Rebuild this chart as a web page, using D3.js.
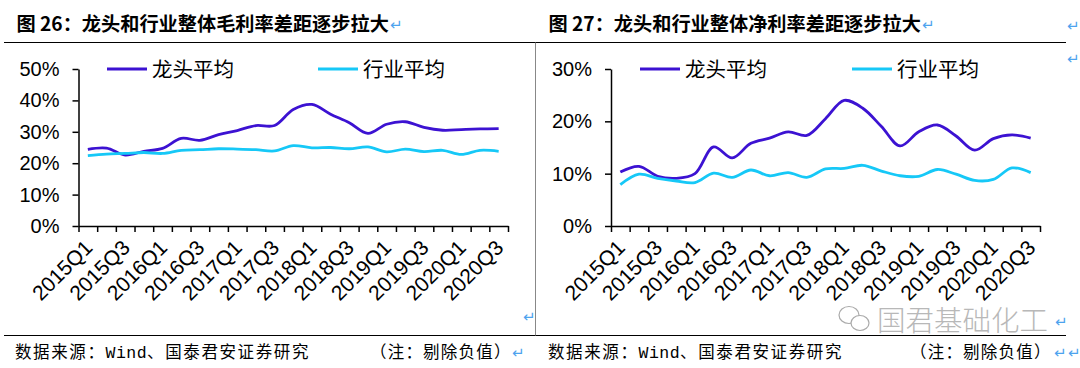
<!DOCTYPE html>
<html>
<head>
<meta charset="utf-8">
<script src="https://cdn.jsdelivr.net/npm/d3@7"></script>
<style>
  body { margin: 0; background: #fff; }
  svg { display: block; }
  .cjk { font-family: "Noto Sans CJK SC", sans-serif; }
  .num { font-family: "Liberation Sans", Arial, sans-serif; }
  .enter { font-family: "DejaVu Sans", sans-serif; fill: #4da3ee; }
</style>
</head>
<body>
<svg id="chart" width="1080" height="368"></svg>
<script>
// quarters 2015Q1 .. 2020Q3
var quarters = [];
[2015, 2016, 2017, 2018, 2019, 2020].forEach(function (y) {
    [1, 2, 3, 4].forEach(function (q) {
        if (y == 2020 && q == 4) return;
        quarters.push(y + "Q" + q);
    });
});

// gross margin (%)
var grossLeader = [24.4, 24.8, 22.6, 23.8, 24.7, 27.9, 27.3, 29.1, 30.4, 32.0, 32.0, 37.1,
    38.7, 35.6, 32.9, 29.5, 32.4, 33.2, 31.4, 30.5, 30.7, 30.9, 31.0];
var grossIndustry = [22.4, 22.9, 23.1, 23.4, 23.1, 24.1, 24.3, 24.6, 24.5, 24.3, 23.9, 25.6,
    24.9, 25.0, 24.6, 25.2, 23.6, 24.5, 23.7, 24.1, 22.8, 24.1, 23.8];

// net margin (%)
var netLeader = [10.3, 11.4, 9.5, 9.1, 10.0, 15.1, 13.0, 15.8, 16.8, 18.0, 17.3, 20.5,
    24.0, 22.5, 19.0, 15.3, 18.0, 19.3, 17.2, 14.5, 16.7, 17.4, 16.8];
var netIndustry = [7.9, 9.9, 9.1, 8.6, 8.3, 10.1, 9.3, 10.7, 9.6, 10.2, 9.3, 10.9,
    11.0, 11.6, 10.5, 9.6, 9.5, 10.8, 9.9, 8.7, 8.9, 11.1, 10.2];

var grossTicks = [0, 10, 20, 30, 40, 50];
var netTicks = [0, 10, 20, 30];
var seriesNames = ["龙头平均", "行业平均"];
var colors = ["#3c12d2", "#16c8f7"];

var svg = d3.select("#chart");

// frame lines
svg.append("line").attr("x1", 4).attr("x2", 1066).attr("y1", 42.5).attr("y2", 42.5)
    .attr("stroke", "#000").attr("stroke-width", 1);
svg.append("line").attr("x1", 4).attr("x2", 1066).attr("y1", 335.5).attr("y2", 335.5)
    .attr("stroke", "#000").attr("stroke-width", 1);
svg.append("line").attr("x1", 535.5).attr("x2", 535.5).attr("y1", 42.5).attr("y2", 335.5)
    .attr("stroke", "#888").attr("stroke-width", 1);

function drawPanel(opts) {
    var g = svg.append("g");
    var x0 = opts.x0, x1 = opts.x1, yBottom = 226, yTop = 69;

    // title
    var t = g.append("text").attr("class", "cjk")
        .attr("x", opts.titleX).attr("y", 31)
        .style("font-size", "19.2px").style("font-weight", 700).attr("fill", "#000")
        .text(opts.title);
    var tw = t.node().getComputedTextLength();
    g.append("text").attr("class", "enter").attr("x", opts.titleX + tw + 1).attr("y", 30)
        .style("font-size", "15px").text("↵");

    var xb = d3.scaleBand().domain(quarters).range([x0, x1]).padding(0);
    var xl = d3.scaleLinear().domain([0, quarters.length]).range([x0, x1]);
    var y = d3.scaleLinear().domain([0, opts.max]).range([yBottom, yTop]);

    var yAxis = d3.axisLeft(y).tickValues(opts.ticks).tickSize(6).tickSizeOuter(0)
        .tickPadding(13).tickFormat(function (d) { return d + "%"; });
    var ya = g.append("g").attr("transform", "translate(" + x0 + ",0)").call(yAxis);
    ya.selectAll("text").attr("class", "num").style("font-size", "20px").attr("fill", "#000");
    ya.selectAll("line, path").attr("stroke", "#000").attr("stroke-width", 1.5);

    var xAxis = d3.axisBottom(xl).tickValues(d3.range(quarters.length + 1)).tickSize(6)
        .tickSizeOuter(0).tickFormat("");
    var xa = g.append("g").attr("transform", "translate(0," + yBottom + ")").call(xAxis);
    xa.selectAll("line, path").attr("stroke", "#000").attr("stroke-width", 1.5);

    g.selectAll(".qlabel").data(quarters.filter(function (d, i) { return i % 2 == 0; }))
        .enter().append("text").attr("class", "num qlabel")
        .attr("transform", function (d) {
            return "translate(" + (xb(d) + xb.bandwidth() / 2 + 6) + "," + (yBottom + 23) + ") rotate(-45)";
        })
        .attr("text-anchor", "end").style("font-size", "21px").attr("fill", "#000")
        .text(function (d) { return d; });

    var line = d3.line()
        .x(function (d, i) { return xb(quarters[i]) + xb.bandwidth() / 2; })
        .y(function (d) { return y(d); })
        .curve(d3.curveCatmullRom.alpha(0.5));

    [opts.leader, opts.industry].forEach(function (s, k) {
        g.append("path").datum(s).attr("d", line)
            .attr("fill", "none").attr("stroke", colors[k]).attr("stroke-width", 2.8)
            .attr("stroke-linejoin", "round");
    });

    // legend
    opts.legend.forEach(function (p, k) {
        g.append("line").attr("x1", p[0]).attr("x2", p[0] + 40).attr("y1", 69).attr("y2", 69)
            .attr("stroke", colors[k]).attr("stroke-width", 2.8);
        g.append("text").attr("class", "cjk").attr("x", p[0] + 45).attr("y", 76.5)
            .style("font-size", "20.5px").attr("fill", "#000").text(seriesNames[k]);
    });

    // footer
    var f = g.append("text").attr("class", "cjk").attr("x", opts.footX).attr("y", 358)
        .style("font-size", "16.5px").style("letter-spacing", "1.6px").attr("fill", "#000");
    f.append("tspan").text("数据来源：");
    f.append("tspan").style("font-family", "Liberation Mono, monospace").style("letter-spacing", "0.5px").text("Wind");
    f.append("tspan").text("、国泰君安证券研究");
    g.append("text").attr("class", "cjk").attr("x", opts.noteX).attr("y", 358)
        .style("font-size", "16.5px").style("letter-spacing", "1.2px").attr("fill", "#000")
        .text("（注：剔除负值）");
}

drawPanel({
    x0: 78.5, x1: 508, max: 50, ticks: grossTicks,
    leader: grossLeader, industry: grossIndustry,
    title: "图 26：龙头和行业整体毛利率差距逐步拉大", titleX: 16.5,
    legend: [[107], [318]], footX: 15, noteX: 370
});
drawPanel({
    x0: 611, x1: 1040, max: 30, ticks: netTicks,
    leader: netLeader, industry: netIndustry,
    title: "图 27：龙头和行业整体净利率差距逐步拉大", titleX: 548.5,
    legend: [[640], [852]], footX: 548, noteX: 910
});

// watermark
var wm = svg.append("g").attr("fill", "none").attr("stroke", "#aaa").attr("stroke-width", 1.2);
wm.append("ellipse").attr("cx", 849).attr("cy", 315).attr("rx", 10).attr("ry", 8.5);
wm.append("ellipse").attr("cx", 860).attr("cy", 323).attr("rx", 9).attr("ry", 7.5).attr("fill", "#fff");
svg.append("text").attr("class", "cjk").attr("x", 877).attr("y", 331)
    .style("font-size", "28.5px").style("font-weight", 300).attr("fill", "#b8b8b8")
    .text("国君基础化工");

// paragraph marks
var marks = [[1067, 31], [1067, 64], [523, 322], [512, 358], [1055, 327], [1054, 358], [1068, 358]];
svg.selectAll(".pm").data(marks).enter().append("text").attr("class", "enter pm")
    .attr("x", function (d) { return d[0]; }).attr("y", function (d) { return d[1]; })
    .style("font-size", "15px").text("↵");
</script>
</body>
</html>
